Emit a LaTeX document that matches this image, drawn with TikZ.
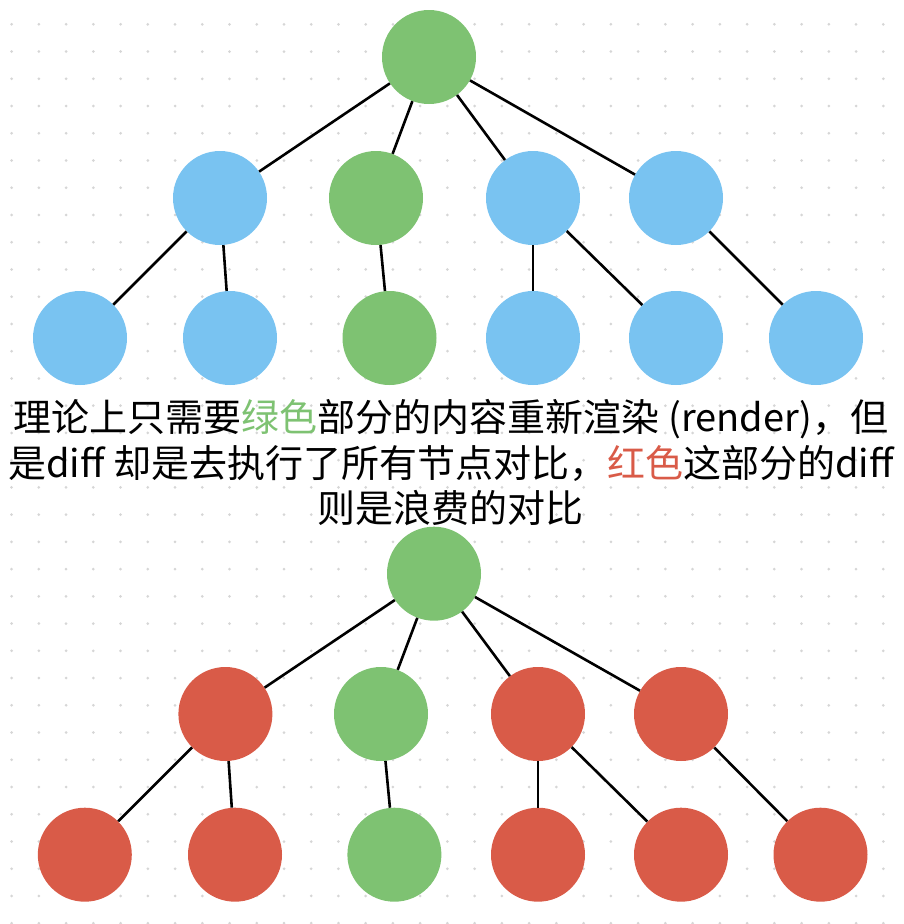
\documentclass[tikz,border=0pt]{standalone}
\usepackage{fontspec}
\setmainfont{Noto Sans CJK SC}
\definecolor{nodegreen}{HTML}{7EC272}
\definecolor{nodeblue}{HTML}{79C3F1}
\definecolor{nodered}{HTML}{D95B48}
\definecolor{griddot}{HTML}{D6D6D6}
\begin{document}
\begin{tikzpicture}[x=1pt,y=-1pt,
        gnode/.style={circle,fill=nodegreen,inner sep=0pt,minimum size=94pt},
        bnode/.style={circle,fill=nodeblue,inner sep=0pt,minimum size=94pt},
        rnode/.style={circle,fill=nodered,inner sep=0pt,minimum size=94pt},
        link/.style={line width=2.6pt,black}]
    \useasboundingbox (0,0) rectangle (904,924);
    % dotted paper
    \foreach \i in {0,...,32}
        \foreach \j in {0,...,33}
            \fill[griddot] (11.6+27.24*\i, 24.3+27.24*\j) circle(1.5pt);

    % tree before the update
    \node[gnode] (top) at (429,57) {};
    \node[bnode] (top1) at (220,198) {};
    \node[gnode] (top2) at (376,198) {};
    \node[bnode] (top3) at (533,198) {};
    \node[bnode] (top4) at (676,198) {};
    \node[bnode] (top11) at (80,338) {};
    \node[bnode] (top12) at (230,338) {};
    \node[gnode] (top21) at (389.5,338) {};
    \node[bnode] (top31) at (533,338) {};
    \node[bnode] (top32) at (676,338) {};
    \node[bnode] (top41) at (816,338) {};
    \draw[link] (top) -- (top1);
    \draw[link] (top) -- (top2);
    \draw[link] (top) -- (top3);
    \draw[link] (top) -- (top4);
    \draw[link] (top1) -- (top11);
    \draw[link] (top1) -- (top12);
    \draw[link] (top2) -- (top21);
    \draw[link] (top3) -- (top31);
    \draw[link] (top3) -- (top32);
    \draw[link] (top4) -- (top41);

    \node[align=center,font=\fontsize{38}{45.5}\selectfont] (caption) at (451,463)
        {理论上只需要\textcolor{nodegreen}{绿色}部分的内容重新渲染 (render)，但\\
         是diff 却是去执行了所有节点对比，\textcolor{nodered}{红色}这部分的diff\\
         则是浪费的对比};

    % tree with the wasted diffs
    \node[gnode] (bot) at (434,573.7) {};
    \node[rnode] (bot1) at (225.4,714) {};
    \node[gnode] (bot2) at (381,714) {};
    \node[rnode] (bot3) at (538,714) {};
    \node[rnode] (bot4) at (681,714) {};
    \node[rnode] (bot11) at (84.8,854.7) {};
    \node[rnode] (bot12) at (235,854.7) {};
    \node[gnode] (bot21) at (394.4,854.7) {};
    \node[rnode] (bot31) at (538,854.7) {};
    \node[rnode] (bot32) at (681,854.7) {};
    \node[rnode] (bot41) at (820.5,854.7) {};
    \draw[link] (bot) -- (bot1);
    \draw[link] (bot) -- (bot2);
    \draw[link] (bot) -- (bot3);
    \draw[link] (bot) -- (bot4);
    \draw[link] (bot1) -- (bot11);
    \draw[link] (bot1) -- (bot12);
    \draw[link] (bot2) -- (bot21);
    \draw[link] (bot3) -- (bot31);
    \draw[link] (bot3) -- (bot32);
    \draw[link] (bot4) -- (bot41);
\end{tikzpicture}
\end{document}
